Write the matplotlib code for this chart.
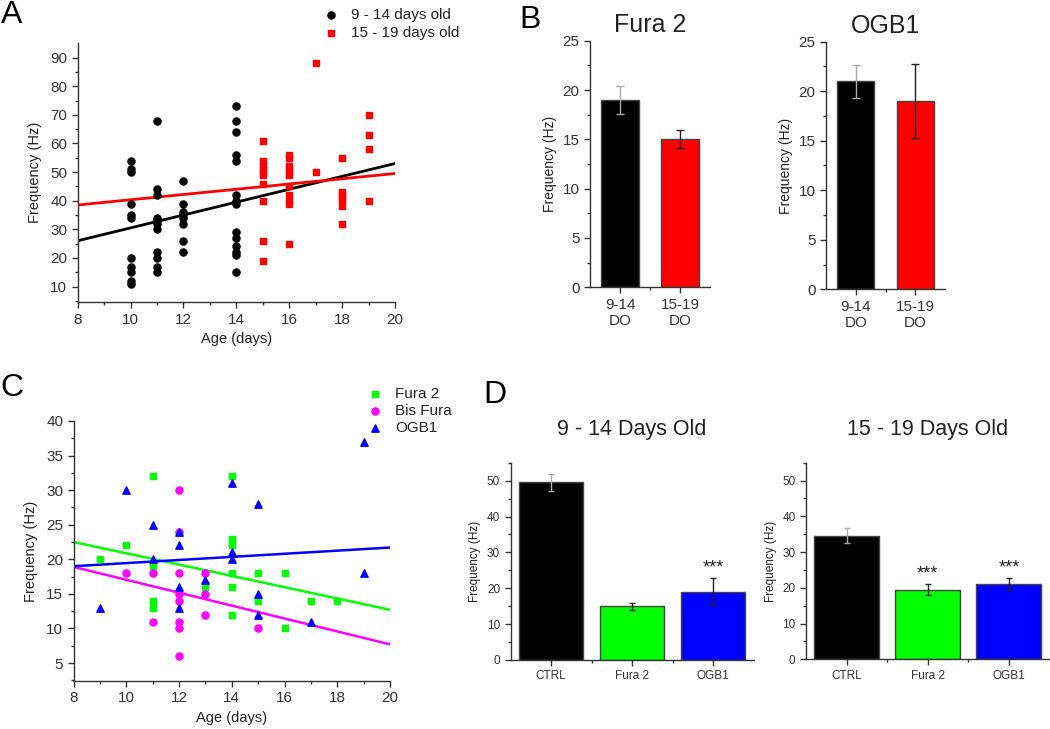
import numpy as np
import matplotlib
matplotlib.use("Agg")
import matplotlib.pyplot as plt
from matplotlib.ticker import MultipleLocator, FixedLocator

plt.rcParams['font.family'] = ['Liberation Sans', 'DejaVu Sans']
plt.rcParams['text.color'] = '#222222'
plt.rcParams['axes.labelcolor'] = '#222222'
plt.rcParams['xtick.color'] = '#333333'
plt.rcParams['ytick.color'] = '#333333'

# ---- panel A: frequency vs age, two age groups ----
young_age = [10] * 11 + [11] * 11 + [12] * 8 + [14] * 14
young_freq = [54, 51, 50, 39, 35, 34, 20, 17, 15, 12, 11,
              68, 44, 42, 34, 33, 32, 30, 22, 20, 17, 15,
              47, 39, 36, 35, 34, 32, 26, 22,
              73, 68, 64, 56, 54, 42, 40, 39, 29, 27, 24, 22, 21, 15]
old_age = [15] * 10 + [16] * 11 + [17] * 2 + [18] * 7 + [19] * 4
old_freq = [61, 54, 52, 51, 50, 49, 46, 40, 26, 19,
            56, 55, 52, 51, 50, 49, 45, 42, 40, 39, 25,
            88, 50,
            55, 43, 42, 41, 40, 38, 32,
            70, 63, 58, 40]
fit_x = [8, 20]
young_fit = [26, 53]
old_fit = [38.5, 49.5]

# ---- panel B: mean frequency per indicator ----
age_groups = ["9-14\nDO", "15-19\nDO"]
fura_mean = [19.0, 15.0]
fura_err = [1.4, 0.9]
ogb_mean = [21.0, 19.0]
ogb_err = [1.65, 3.7]

# ---- panel C: frequency vs age, per indicator ----
fura_age = [9, 10, 11, 11, 11, 11, 13, 14, 14, 14, 14, 14, 14, 15, 15, 16, 16, 17, 18]
fura_freq = [20, 22, 32, 19, 14, 13, 16, 32, 23, 22, 18, 16, 12, 18, 14, 18, 10, 14, 14]
bis_age = [10, 11, 11, 12, 12, 12, 12, 12, 12, 12, 12, 13, 13, 13, 15]
bis_freq = [18, 18, 11, 30, 24, 18, 15, 14, 11, 10, 6, 18, 15, 12, 10]
ogb_age = [9, 10, 11, 11, 12, 12, 12, 12, 13, 14, 14, 14, 15, 15, 15, 17, 19, 19]
ogb_freq = [13, 30, 25, 20, 24, 22, 16, 13, 17, 31, 21, 20, 28, 15, 12, 11, 37, 18]
fura_fit = [22.5, 12.7]
bis_fit = [18.9, 7.7]
ogb_fit = [19.0, 21.7]

# ---- panel D: control vs indicators ----
groups = ["CTRL", "Fura 2", "OGB1"]
young_mean = [49.5, 15.0, 19.0]
young_err = [2.3, 0.95, 3.8]
young_sig = ["", "", "***"]
old_mean = [34.5, 19.5, 21.0]
old_err = [2.1, 1.6, 1.7]
old_sig = ["", "***", "***"]

W, H = 1050, 729
fig = plt.figure(figsize=(W / 100, H / 100), dpi=100)


def rect(x0, y0, x1, y1):
    # pixel box (top-left origin) -> figure fraction
    return [x0 / W, 1 - y1 / H, (x1 - x0) / W, (y1 - y0) / H]


def style_axes(ax, size=10):
    for side in ("top", "right"):
        ax.spines[side].set_visible(False)
    for side in ("left", "bottom"):
        ax.spines[side].set_color("#333333")
        ax.spines[side].set_linewidth(1.0)
    ax.tick_params(which="major", direction="out", length=4, width=1, labelsize=size)
    ax.tick_params(which="minor", direction="out", length=2.5, width=1)


# A
axA = fig.add_axes(rect(77.7, 43.3, 395, 302.3))
axA.plot(fit_x, young_fit, color="black", lw=2, zorder=2)
axA.plot(fit_x, old_fit, color="#ff0000", lw=2, zorder=2)
axA.scatter(young_age, young_freq, s=26, marker="o", color="black", label="9 - 14 days old", zorder=3)
axA.scatter(old_age, old_freq, s=20, marker="s", color="#ff0000", label="15 - 19 days old", zorder=3)
axA.set_xlim(8, 20)
axA.set_ylim(4.5, 95)
axA.xaxis.set_major_locator(MultipleLocator(2))
axA.xaxis.set_minor_locator(MultipleLocator(1))
axA.yaxis.set_major_locator(FixedLocator(range(10, 91, 10)))
axA.yaxis.set_minor_locator(FixedLocator(np.arange(5, 95, 5)))
style_axes(axA, 11)
axA.set_xlabel("Age (days)", fontsize=10.5)
axA.set_ylabel("Frequency (Hz)", fontsize=10.5, labelpad=6)
axA.legend(loc="upper left", bbox_to_anchor=(310 / W, 1 - 2 / H), bbox_transform=fig.transFigure,
           frameon=False, fontsize=11, handletextpad=0.3, labelspacing=0.25, borderaxespad=0)

# B
for box, title, means, errs in [((590, 40.7, 710, 287.3), "Fura 2", fura_mean, fura_err),
                                ((826, 41.7, 945, 289.3), "OGB1", ogb_mean, ogb_err)]:
    ax = fig.add_axes(rect(*box))
    xs = np.arange(len(age_groups))
    ax.bar(xs, means, width=0.62, color=["black", "#ff0000"], edgecolor="#444444", linewidth=1, zorder=2)
    for x, m, e, c in zip(xs, means, errs, ["#aaaaaa", "#222222"]):
        ax.errorbar(x, m, yerr=e, color=c, capsize=3, lw=1, capthick=1, zorder=3)
    ax.set_xlim(-0.5, 1.5)
    ax.set_ylim(0, 25)
    ax.set_xticks(xs)
    ax.set_xticklabels(age_groups, fontsize=11)
    ax.xaxis.set_minor_locator(FixedLocator([0.5]))
    ax.yaxis.set_major_locator(MultipleLocator(5))
    ax.yaxis.set_minor_locator(MultipleLocator(2.5))
    style_axes(ax, 11)
    ax.set_ylabel("Frequency (Hz)", fontsize=10)
    ax.set_title(title, fontsize=18, pad=6)

# C
axC = fig.add_axes(rect(73.7, 421, 390, 681))
axC.plot(fit_x, fura_fit, color="#00ff00", lw=1.8, zorder=2)
axC.plot(fit_x, bis_fit, color="#ff00ff", lw=1.8, zorder=2)
axC.plot(fit_x, ogb_fit, color="#0000ff", lw=1.8, zorder=2)
axC.scatter(fura_age, fura_freq, s=18, marker="s", color="#00ff00", label="Fura 2", zorder=3)
axC.scatter(bis_age, bis_freq, s=26, marker="o", color="#ff00ff", label="Bis Fura", zorder=3)
axC.scatter(ogb_age, ogb_freq, s=28, marker="^", color="#0000ff", label="OGB1", zorder=3)
axC.set_xlim(8, 20)
axC.set_ylim(2.4, 40)
axC.xaxis.set_major_locator(MultipleLocator(2))
axC.xaxis.set_minor_locator(MultipleLocator(1))
axC.yaxis.set_major_locator(FixedLocator(range(5, 41, 5)))
axC.yaxis.set_minor_locator(FixedLocator(np.arange(2.5, 40.1, 2.5)))
style_axes(axC, 11)
axC.set_xlabel("Age (days)", fontsize=10.5)
axC.set_ylabel("Frequency (Hz)", fontsize=10.5, labelpad=6)
axC.legend(loc="upper left", bbox_to_anchor=(354 / W, 1 - 381 / H), bbox_transform=fig.transFigure,
           frameon=False, fontsize=11, handletextpad=0.3, labelspacing=0.2, borderaxespad=0)

# D
for box, title, means, errs, sig in [((510.5, 462.7, 753.5, 660), "9 - 14 Days Old", young_mean, young_err, young_sig),
                                     ((806, 462.7, 1049.5, 659.3), "15 - 19 Days Old", old_mean, old_err, old_sig)]:
    ax = fig.add_axes(rect(*box))
    xs = np.arange(len(groups))
    ax.bar(xs, means, width=0.8, color=["black", "#00ff00", "#0000ff"], edgecolor="#444444", linewidth=1, zorder=2)
    for x, m, e, c, s in zip(xs, means, errs, ["#aaaaaa", "#222222", "#222222"], sig):
        ax.errorbar(x, m, yerr=e, color=c, capsize=2.5, lw=1, capthick=1, zorder=3)
        if s:
            ax.text(x, m + e + 0.5, s, ha="center", va="bottom", fontsize=13)
    ax.set_xlim(-0.5, 2.5)
    ax.set_ylim(0, 55)
    ax.set_xticks(xs)
    ax.set_xticklabels(groups)
    ax.xaxis.set_minor_locator(FixedLocator([0.5, 1.5]))
    ax.yaxis.set_major_locator(MultipleLocator(10))
    ax.yaxis.set_minor_locator(MultipleLocator(5))
    style_axes(ax, 8.5)
    ax.set_ylabel("Frequency (Hz)", fontsize=8.5)
    ax.set_title(title, fontsize=15.5, pad=20)

# panel letters
for letter, x, y in [("A", 1, 0), ("B", 519, 5), ("C", 0, 373), ("D", 483, 380)]:
    fig.text(x / W, 1 - y / H, letter, fontsize=23, ha="left", va="top", color="black")

fig.savefig("out.png", dpi=100)
